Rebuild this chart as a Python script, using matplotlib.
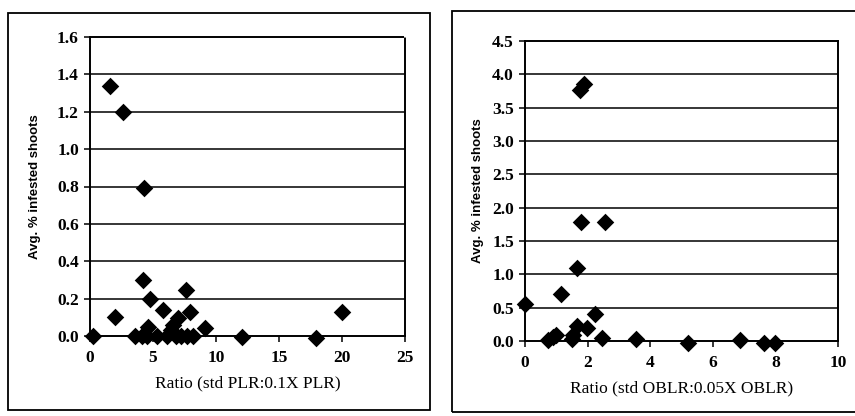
import matplotlib
matplotlib.use("Agg")
import matplotlib.pyplot as plt
from matplotlib.patches import Rectangle

# Left panel data (PLR ratio)
plr_ratio = [0.2, 1.6, 2.6, 2.0, 4.3, 4.2, 4.8, 4.6, 3.6, 4.1, 4.5, 5.3, 5.8, 6.1,
             6.4, 6.6, 6.8, 7.0, 7.2, 7.6, 7.9, 7.7, 8.2, 9.1, 12.1, 17.9, 20.0]
plr_infested = [0.0, 1.34, 1.20, 0.10, 0.79, 0.30, 0.20, 0.05, 0.0, 0.0, 0.0, 0.0, 0.14, 0.0,
                0.03, 0.06, 0.0, 0.095, 0.0, 0.245, 0.13, 0.0, 0.0, 0.045, -0.005, -0.01, 0.13]

# Right panel data (OBLR ratio)
oblr_ratio = [0.0, 0.75, 0.9, 1.0, 1.14, 1.5, 1.53, 1.65, 1.65, 1.75, 1.8, 1.9, 1.97,
              2.24, 2.45, 2.57, 3.54, 5.2, 6.86, 7.64, 7.98]
oblr_infested = [0.55, 0.01, 0.06, 0.09, 0.70, 0.03, 0.09, 0.22, 1.10, 3.77, 1.79, 3.86, 0.20,
                 0.41, 0.05, 1.79, 0.03, -0.03, 0.01, -0.03, -0.03]

left_xticks = [0, 5, 10, 15, 20, 25]
left_yticks = [0.0, 0.2, 0.4, 0.6, 0.8, 1.0, 1.2, 1.4, 1.6]
right_xticks = [0, 2, 4, 6, 8, 10]
right_yticks = [0.0, 0.5, 1.0, 1.5, 2.0, 2.5, 3.0, 3.5, 4.0, 4.5]

W, H = 855, 416
fig = plt.figure(figsize=(W / 100, H / 100), dpi=100)
fig.patch.set_facecolor("white")

serif = ["Liberation Serif", "DejaVu Serif"]


def fig_rect(x0, y0, x1, y1):
    fig.patches.append(Rectangle((x0 / W, 1 - y1 / H), (x1 - x0) / W, (y1 - y0) / H,
                                 transform=fig.transFigure, fill=False,
                                 edgecolor="black", linewidth=1.3))


fig_rect(8, 13, 430, 410)
fig_rect(452, 11, 862, 412)


def panel(rect, xs, ys, xticks, yticks, xlabel, yfmt, ylab_x):
    ax = fig.add_axes(rect)
    ax.scatter(xs, ys, marker="D", s=80, color="black", zorder=5, clip_on=False,
               linewidths=0)
    ax.set_xlim(xticks[0], xticks[-1])
    ax.set_ylim(yticks[0], yticks[-1])
    ax.set_xticks(xticks)
    ax.set_yticks(yticks)
    ax.set_yticklabels([yfmt.format(v) for v in yticks])
    for yv in yticks[1:-1]:
        ax.axhline(yv, color="black", linewidth=1.1, zorder=1)
    for s in ["left", "bottom"]:
        ax.spines[s].set_linewidth(1.4)
    for s in ["top", "right"]:
        ax.spines[s].set_linewidth(1.4)
        ax.spines[s].set_linestyle((0, (1, 1)))
    ax.tick_params(direction="out", length=4, width=1.1, labelsize=12.5)
    ax.tick_params(axis="x", pad=6)
    ax.tick_params(axis="y", pad=4)
    for lab in ax.get_xticklabels() + ax.get_yticklabels():
        lab.set_fontfamily(serif)
        lab.set_fontweight("bold")
    ax.set_xlabel(xlabel, fontsize=12.5, family=serif, labelpad=7)
    ax.set_ylabel("Avg. % infested shoots", fontsize=9.5,
                  family=["Liberation Sans", "DejaVu Sans"], fontweight="bold")
    x0_ax = rect[0]
    ax.yaxis.set_label_coords((ylab_x / W - x0_ax) / rect[2], 0.5)
    return ax


panel([90 / W, 1 - 336 / H, 315 / W, 299 / H], plr_ratio, plr_infested,
      left_xticks, left_yticks, "Ratio (std PLR:0.1X PLR)", "{:.1f}", 41)
panel([525 / W, 1 - 341 / H, 313 / W, 300 / H], oblr_ratio, oblr_infested,
      right_xticks, right_yticks, "Ratio (std OBLR:0.05X OBLR)", "{:.1f}", 484)

fig.savefig("out.png", dpi=100)
